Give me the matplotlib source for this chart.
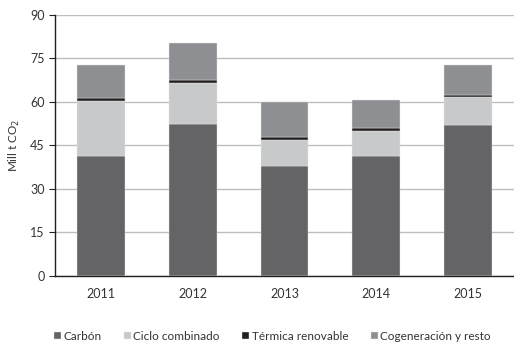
import matplotlib
matplotlib.use("Agg")
import matplotlib.pyplot as plt
import numpy as np

plt.rcParams['font.family'] = ['Lato', 'DejaVu Sans']

years = ['2011', '2012', '2013', '2014', '2015']
carbon = [41.4, 52.4, 37.9, 41.5, 52.2]
ciclo = [19.0, 14.3, 9.0, 8.5, 9.4]
termica = [0.9, 0.9, 1.0, 1.0, 0.9]
cogen = [11.6, 12.6, 12.0, 9.6, 10.1]

labels = ['Carbón', 'Ciclo combinado', 'Térmica renovable', 'Cogeneración y resto']
colors = ['#646466', '#c8c9cb', '#231f20', '#8e8f93']

fig = plt.figure(figsize=(5.14, 3.48), dpi=100)
ax = fig.add_axes([0.107, 0.207, 0.893, 0.75])

x = np.arange(len(years))
bottom = np.zeros(len(years))
for vals, lab, col in zip([carbon, ciclo, termica, cogen], labels, colors):
    ax.bar(x, vals, 0.52, bottom=bottom, color=col, label=lab,
           edgecolor='#e6e6e6', linewidth=0.3, zorder=3)
    bottom += np.array(vals)

ax.set_xlim(-0.5, len(years) - 0.5)
ax.set_ylim(0, 90)
ax.set_yticks(np.arange(0, 91, 15))
ax.set_xticks(x)
ax.set_xticklabels(years)
ax.yaxis.grid(True, color='#bdbdbd', linewidth=1.0, zorder=0)
ax.set_axisbelow(True)
for s in ['top', 'right']:
    ax.spines[s].set_visible(False)
for s in ['left', 'bottom']:
    ax.spines[s].set_color('#231f20')
    ax.spines[s].set_linewidth(1.0)
ax.tick_params(axis='x', length=0, pad=9, labelsize=9)
ax.tick_params(axis='y', length=4, width=0.8, labelsize=9, colors='#231f20')
for t in ax.get_yticklabels() + ax.get_xticklabels():
    t.set_color('#333333')
ax.set_ylabel('Mill t CO$_2$', fontsize=8.5, color='#333333', labelpad=6)

fig.legend(loc='lower center', bbox_to_anchor=(0.53, -0.012), ncol=4, frameon=False,
           fontsize=8.5, handlelength=0.6, handleheight=0.6, handletextpad=0.2,
           columnspacing=1.9, labelcolor='#333333')

fig.savefig('out.png', dpi=100)
